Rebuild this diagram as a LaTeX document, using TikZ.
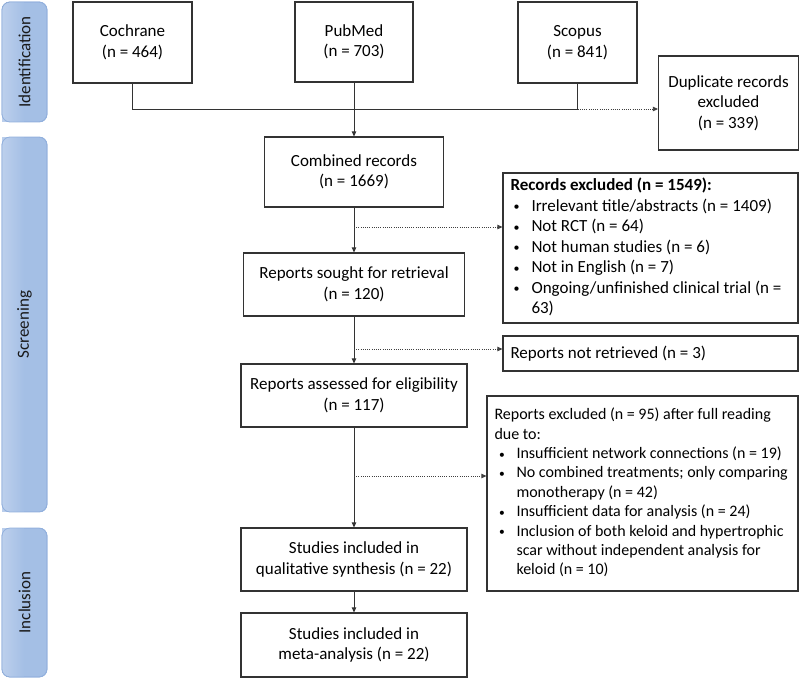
\documentclass[tikz,border=0pt]{standalone}
\usepackage{fontspec}
\setmainfont{Carlito}
\usetikzlibrary{arrows.meta,calc}
\definecolor{sideL}{HTML}{BCCFEC}
\definecolor{sideM}{HTML}{A4BFE5}
\definecolor{sideR}{HTML}{9BB8E2}
\definecolor{sideB}{HTML}{92B0DD}
\definecolor{lineC}{HTML}{333333}
\newcommand{\bul}{\makebox[21pt][l]{\hspace{3pt}\raisebox{0.5pt}{\fontsize{12}{12}\selectfont\textbullet}}}
\newcommand{\bulb}{\makebox[22pt][l]{\hspace{4.5pt}\raisebox{0.5pt}{\fontsize{11.5}{12}\selectfont\textbullet}}}
\begin{document}
\begin{tikzpicture}[x=1pt,y=-1pt,
  every node/.style={font=\fontsize{17}{20.5}\selectfont, text=black},
  box/.style={draw=lineC, line width=1.2pt, rectangle, inner sep=0pt, align=center},
  lbox/.style={draw=lineC, line width=1.2pt, rectangle, inner xsep=7.5pt, inner ysep=0pt},
  side/.style={draw=sideB, line width=0.8pt, rounded corners=8pt, fill=sideM},
  sidetext/.style={rotate=90, font=\fontsize{17}{20.5}\selectfont, text=black!90},
  conn/.style={draw=lineC, line width=0.8pt},
  arr/.style={conn, -{Triangle[length=5pt,width=4.5pt]}},
  dotarr/.style={draw=black!75, line width=0.8pt, dash pattern=on 1pt off 1.2pt, -{Triangle[length=5pt,width=4.5pt]}}
]
\useasboundingbox (0,0) rectangle (800,678);

% sidebars
\path[side] (2,2) rectangle (47,122);
\path[side] (2,137) rectangle (47,512);
\path[side] (2,528) rectangle (47,677);
\begin{scope}
\clip[rounded corners=8pt] (2,2) rectangle (47,677);
\fill[left color=sideL, right color=sideM] (2.4,2) rectangle (24,677);
\end{scope}
\fill[white] (0,122.4) rectangle (48,136.6);
\fill[white] (0,512.4) rectangle (48,527.6);
\path[draw=sideB, line width=0.8pt, rounded corners=8pt] (2,2) rectangle (47,122);
\path[draw=sideB, line width=0.8pt, rounded corners=8pt] (2,137) rectangle (47,512);
\path[draw=sideB, line width=0.8pt, rounded corners=8pt] (2,528) rectangle (47,677);
\node[sidetext] (sid) at (24.5,62) {Identification};
\node[sidetext] (ssc) at (24.5,324.5) {Screening};
\node[sidetext] (sin) at (24.5,602.5) {Inclusion};

% identification
\node[box, minimum width=119pt, minimum height=81pt] (cochrane) at (132.5,42.5) {Cochrane\\(n = 464)};
\node[box, minimum width=118pt, minimum height=80pt] (pubmed) at (354,42) {PubMed\\(n = 703)};
\node[box, minimum width=119pt, minimum height=81pt] (scopus) at (577.5,42.5) {Scopus\\(n = 841)};
\node[box, minimum width=140pt, minimum height=94pt] (dup) at (728.5,103) {Duplicate records\\excluded\\(n = 339)};

% flow
\node[box, minimum width=179pt, minimum height=70pt] (comb) at (354,172) {Combined records\\(n = 1669)};
\node[box, minimum width=221pt, minimum height=63pt] (sought) at (354,284.5) {Reports sought for retrieval\\(n = 120)};
\node[box, minimum width=226pt, minimum height=63pt] (assessed) at (354,395.5) {Reports assessed for eligibility\\(n = 117)};
\node[box, minimum width=226pt, minimum height=63pt] (qual) at (354,559.5) {Studies included in\\qualitative synthesis (n = 22)};
\node[box, minimum width=226pt, minimum height=64pt] (meta) at (354,645) {Studies included in\\meta-analysis (n = 22)};

% exclusion boxes
\node[lbox, minimum width=295pt, minimum height=150pt] (rexcl) at (650.5,248) {\makebox[280pt][l]{%
\begin{tabular}{@{}l@{}l@{}}
\multicolumn{2}{@{}l@{}}{\bfseries Records excluded (n = 1549):}\\
\bul & Irrelevant title/abstracts (n = 1409)\\
\bul & Not RCT (n = 64)\\
\bul & Not human studies (n = 6)\\
\bul & Not in English (n = 7)\\
\bul & Ongoing/unfinished clinical trial (n =\\
 & 63)
\end{tabular}}};
\node[lbox, minimum width=295pt, minimum height=35pt] (notret) at (650.5,353.5) {\makebox[280pt][l]{Reports not retrieved (n = 3)}};
\node[lbox, minimum width=311pt, minimum height=195pt] (rep95) at (642.5,493.5) {\makebox[296pt][l]{%
\fontsize{16}{19.4}\selectfont
\begin{tabular}{@{}l@{}l@{}}
\multicolumn{2}{@{}l@{}}{Reports excluded (n = 95) after full reading}\\
\multicolumn{2}{@{}l@{}}{due to:}\\
\bulb & Insufficient network connections (n = 19)\\
\bulb & No combined treatments; only comparing\\
 & monotherapy (n = 42)\\
\bulb & Insufficient data for analysis (n = 24)\\
\bulb & Inclusion of both keloid and hypertrophic\\
 & scar without independent analysis for\\
 & keloid (n = 10)
\end{tabular}}};

% connectors
\coordinate (join) at (354,109);
\coordinate (scj) at (577.5,109);
\coordinate (d1) at (354,227);
\coordinate (d2) at (354,349);
\coordinate (d3) at (354,476);
\draw[conn] (cochrane.south) |- (join);
\draw[conn] (scopus.south) -- (scj) -- (join);
\draw[arr] (pubmed.south) -- (comb.north);
\draw[dotarr] (scj) -- (scj -| dup.west);
\draw[arr] (comb.south) -- (sought.north);
\draw[arr] (sought.south) -- (assessed.north);
\draw[arr] (assessed.south) -- (qual.north);
\draw[arr] (qual.south) -- (meta.north);
\draw[dotarr] (d1) -- (d1 -| rexcl.west);
\draw[dotarr] (d2) -- (d2 -| notret.west);
\draw[dotarr] (d3) -- (d3 -| rep95.west);
\end{tikzpicture}
\end{document}
